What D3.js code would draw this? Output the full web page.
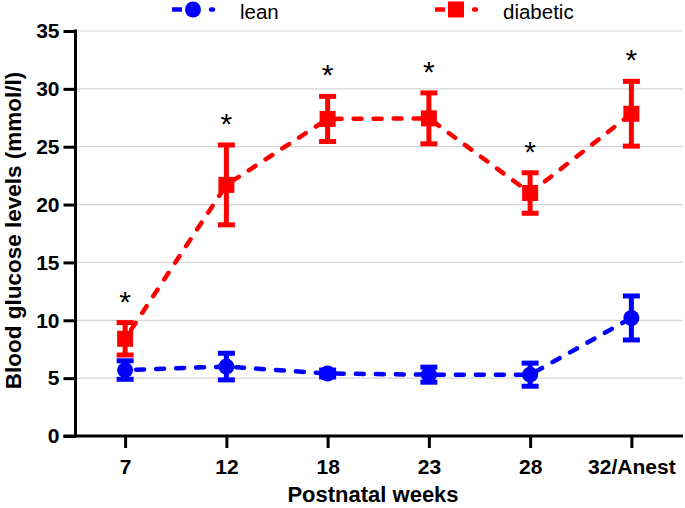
<!DOCTYPE html>
<html><head><meta charset="utf-8">
<script src="https://cdn.jsdelivr.net/npm/d3@7"></script>
<style>
html,body{margin:0;padding:0;background:#fff;}
text{font-family:"Liberation Sans",Arial,sans-serif;}
</style></head>
<body>
<svg id="chart" width="685" height="508"></svg>
<script>
const categories = ["7","12","18","23","28","32/Anest"];
const leanValues = [5.7, 6.0, 5.4, 5.3, 5.3, 10.2];
const leanErrors = [0.8, 1.15, 0.3, 0.65, 1.0, 1.9];
const diabeticValues = [8.4, 21.7, 27.4, 27.45, 21.0, 27.85];
const diabeticErrors = [1.4, 3.45, 1.95, 2.2, 1.75, 2.8];
const yTicks = [0,5,10,15,20,25,30,35];
const significant = [true,true,true,true,true,true];

const svg = d3.select("#chart");
const x = d3.scalePoint().domain(categories).range([74.5, 682]).padding(0.5);
const y = d3.scaleLinear().domain([0,35]).range([436, 31]);
const axisX = 75.5, right = 683;

// grid
svg.append("g").selectAll("line").data(yTicks.filter(d=>d>0)).join("line")
  .attr("x1", axisX).attr("x2", right)
  .attr("y1", d=>y(d)).attr("y2", d=>y(d))
  .attr("stroke", "#d6d6d6").attr("stroke-width", 1.2);

// y axis
const gy = svg.append("g").attr("transform", `translate(${axisX},0)`)
  .call(d3.axisLeft(y).tickValues(yTicks).tickSize(12).tickPadding(4).tickFormat(d3.format("d")));
gy.select(".domain").remove();
gy.selectAll(".tick line").attr("stroke","#000").attr("stroke-width",3);
gy.selectAll(".tick text").attr("font-size",21).attr("font-weight","bold").attr("fill","#000")
  .style("font-family","'Liberation Sans',Arial,sans-serif");
svg.append("line").attr("x1",axisX).attr("x2",axisX).attr("y1",y(35)-1.5).attr("y2",y(0)+1.5)
  .attr("stroke","#000").attr("stroke-width",3);

// x axis
const gx = svg.append("g").attr("transform", `translate(0,${y(0)})`)
  .call(d3.axisBottom(x).tickSize(12).tickPadding(11));
gx.select(".domain").remove();
gx.selectAll(".tick line").attr("stroke","#000").attr("stroke-width",3);
gx.selectAll(".tick text").attr("font-size",21).attr("font-weight","bold").attr("fill","#000")
  .style("font-family","'Liberation Sans',Arial,sans-serif");
svg.append("line").attr("x1",axisX-12).attr("x2",right).attr("y1",y(0)).attr("y2",y(0))
  .attr("stroke","#000").attr("stroke-width",3);

// axis titles
svg.append("text").attr("x",373).attr("y",502).attr("text-anchor","middle")
  .attr("font-size",22).attr("font-weight","bold").text("Postnatal weeks");
svg.append("text").attr("transform",`translate(21,${(y(0)+y(35))/2 -3}) rotate(-90)`)
  .attr("text-anchor","middle").attr("font-size",22.5).attr("font-weight","bold")
  .text("Blood glucose levels (mmol/l)");

function drawSeries(vals, errs, color, shape){
  const data = categories.map((c,i)=>({c, v:vals[i], e:errs[i]}));
  svg.append("path").datum(data)
    .attr("d", d3.line().x(d=>x(d.c)).y(d=>y(d.v)))
    .attr("fill","none").attr("stroke",color).attr("stroke-width",4.5)
    .attr("stroke-dasharray","8,12").attr("stroke-linecap","round")
    .attr("stroke-dashoffset",-11);
  const g = svg.append("g");
  const eb = g.selectAll("g").data(data).join("g");
  eb.append("line").attr("x1",d=>x(d.c)).attr("x2",d=>x(d.c))
    .attr("y1",d=>y(d.v+d.e)).attr("y2",d=>y(d.v-d.e))
    .attr("stroke",color).attr("stroke-width",5);
  [1,-1].forEach(s=>{
    eb.append("line").attr("x1",d=>x(d.c)-8.5).attr("x2",d=>x(d.c)+8.5)
      .attr("y1",d=>y(d.v+s*d.e)).attr("y2",d=>y(d.v+s*d.e))
      .attr("stroke",color).attr("stroke-width",5);
  });
  if(shape==="circle"){
    eb.append("circle").attr("cx",d=>x(d.c)).attr("cy",d=>y(d.v)).attr("r",8).attr("fill",color);
  } else {
    eb.append("rect").attr("x",d=>x(d.c)-8).attr("y",d=>y(d.v)-8).attr("width",16).attr("height",16).attr("fill",color);
  }
  return data;
}
drawSeries(leanValues, leanErrors, "#0000ff", "circle");
const dd = drawSeries(diabeticValues, diabeticErrors, "#ff0000", "square");

// significance stars
svg.append("g").selectAll("text").data(dd.filter((d,i)=>significant[i])).join("text")
  .attr("x",d=>x(d.c)).attr("y",d=>y(d.v+d.e)-25+14)
  .attr("text-anchor","middle").attr("font-size",30).attr("fill","#000").text("*");

// legend
function legendItem(x0, color, shape, label){
  const g = svg.append("g");
  g.append("line").attr("x1",x0).attr("x2",x0+10).attr("y1",9.5).attr("y2",9.5)
    .attr("stroke",color).attr("stroke-width",4.5);
  if(shape==="circle") g.append("circle").attr("cx",x0+21).attr("cy",9.5).attr("r",8).attr("fill",color);
  else g.append("rect").attr("x",x0+13).attr("y",1.5).attr("width",16).attr("height",16).attr("fill",color);
  g.append("line").attr("x1",x0+39).attr("x2",x0+41).attr("y1",9.5).attr("y2",9.5)
    .attr("stroke",color).attr("stroke-width",4.5).attr("stroke-linecap","round");
  g.append("text").attr("x",x0+68).attr("y",18.5).attr("font-size",20.5).attr("fill","#000").text(label);
}
legendItem(172, "#0000ff", "circle", "lean");
legendItem(435, "#ff0000", "square", "diabetic");
</script>
</body></html>
